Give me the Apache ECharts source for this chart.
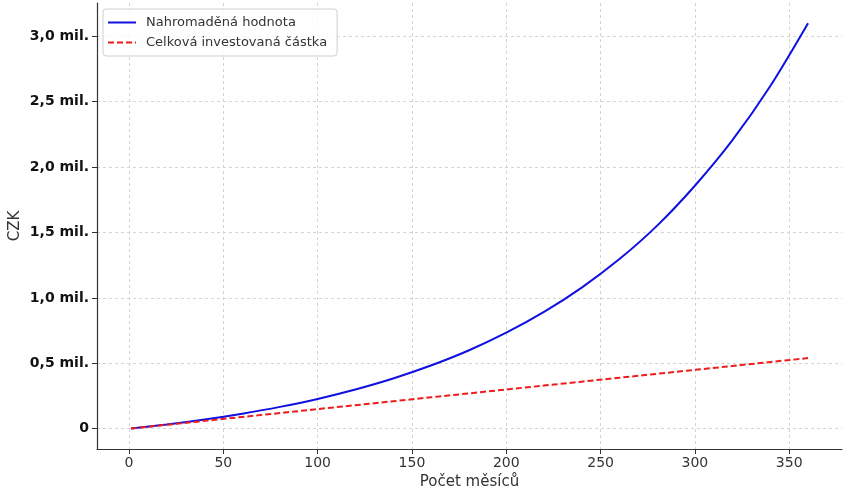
<!DOCTYPE html>
<html lang="cs">
<head>
<meta charset="utf-8">
<title>Nahromaděná hodnota</title>
<script src="https://cdn.jsdelivr.net/npm/echarts@6/dist/echarts.min.js"></script>
<style>
  html, body { margin: 0; padding: 0; background: #fff; }
  #chart { width: 853px; height: 499px; }
</style>
</head>
<body>
<div id="chart"></div>
<script>
// data
const months = [1, 20, 40, 60, 80, 100, 120, 140, 160, 180, 200, 220, 240, 260, 280, 300, 320, 340, 360];
const accumulated = [1500, 32000, 70000, 115000, 167000, 228000, 300000, 384000, 483000, 598000, 734000,
  893000, 1079000, 1297000, 1553000, 1858000, 2208000, 2620000, 3100000];
const invested = [1500, 30000, 60000, 90000, 120000, 150000, 180000, 210000, 240000, 270000, 300000,
  330000, 360000, 390000, 420000, 450000, 480000, 510000, 540000];
const xTicks = [0, 50, 100, 150, 200, 250, 300, 350];
const yTicks = [0, 500000, 1000000, 1500000, 2000000, 2500000, 3000000];
const seriesNames = ['Nahromaděná hodnota', 'Celková investovaná částka'];

const font = 'DejaVu Sans, sans-serif';

const pairs = (vals) => months.map((m, i) => [m, vals[i]]);

const formatCzk = (v) => {
  if (v === 0) return '0';
  return (v / 1e6).toFixed(1).replace('.', ',') + ' mil.';
};

const chart = echarts.init(document.getElementById('chart'), null, { renderer: 'canvas' });

const gridLine = {
  show: true,
  lineStyle: { color: '#d4d4d4', type: [3, 3], width: 1 }
};

chart.setOption({
  animation: false,
  grid: { left: 97, right: 11, top: 3, bottom: 50, containLabel: false, outerBoundsMode: 'none' },
  legend: {
    left: 103,
    top: 9,
    orient: 'vertical',
    itemWidth: 28,
    itemHeight: 10,
    itemGap: 7,
    padding: [7, 10, 7, 4],
    borderColor: '#cfcfcf',
    borderWidth: 1,
    borderRadius: 3,
    backgroundColor: 'rgba(255,255,255,0.8)',
    itemStyle: { opacity: 0 },
    textStyle: { fontFamily: font, fontSize: 13, color: '#333', padding: [0, 0, 0, 5] },
    data: seriesNames
  },
  xAxis: {
    type: 'value',
    min: -17,
    max: 378,
    name: 'Počet měsíců',
    nameLocation: 'middle',
    nameGap: 26,
    nameMoveOverlap: false,
    nameTextStyle: { fontFamily: font, fontSize: 15, color: '#333' },
    axisLine: { show: true, onZero: false, lineStyle: { color: '#333', width: 1.2 } },
    axisTick: { show: true, inside: false, length: 5, customValues: xTicks, lineStyle: { color: '#333' } },
    axisLabel: { customValues: xTicks, fontFamily: font, fontSize: 14, color: '#333', margin: 7 },
    splitLine: gridLine
  },
  yAxis: {
    type: 'value',
    min: -155000,
    max: 3255000,
    name: 'CZK',
    nameLocation: 'middle',
    nameGap: 74,
    nameMoveOverlap: false,
    nameTextStyle: { fontFamily: font, fontSize: 15, color: '#333' },
    axisLine: { show: true, onZero: false, lineStyle: { color: '#333', width: 1.2 } },
    axisTick: { show: true, inside: false, length: 5, customValues: yTicks, lineStyle: { color: '#333' } },
    axisLabel: {
      customValues: yTicks,
      formatter: formatCzk,
      fontFamily: font,
      fontSize: 14,
      fontWeight: 'bold',
      color: '#111',
      margin: 8
    },
    splitLine: gridLine
  },
  series: [
    {
      name: seriesNames[0],
      type: 'line',
      data: pairs(accumulated),
      smooth: 0.3,
      showSymbol: false,
      symbol: 'none',
      lineStyle: { color: '#1010e0', width: 2 },
      itemStyle: { color: '#1010e0' }
    },
    {
      name: seriesNames[1],
      type: 'line',
      data: pairs(invested),
      showSymbol: false,
      symbol: 'none',
      lineStyle: { color: '#ee1c1c', width: 2, type: [6, 3] },
      itemStyle: { color: '#ee1c1c' }
    }
  ]
});
</script>
</body>
</html>
